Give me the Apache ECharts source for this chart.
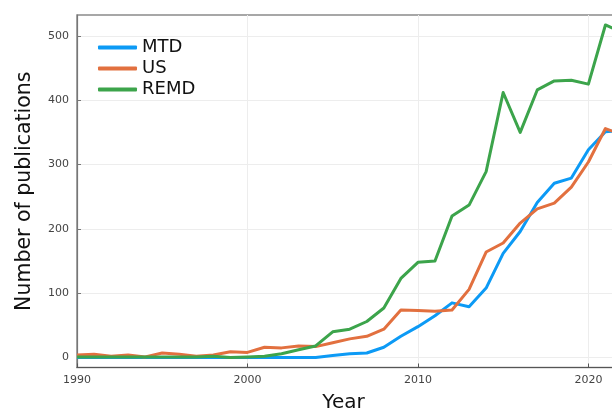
<!DOCTYPE html>
<html>
<head>
<meta charset="utf-8">
<script src="https://cdn.jsdelivr.net/npm/echarts@6/dist/echarts.min.js"></script>
<style>
  html, body { margin: 0; padding: 0; background: #fff; }
  #chart { width: 612px; height: 410px; }
</style>
</head>
<body>
<div id="chart"></div>
<script>
// Publications per year for three enhanced-sampling methods
const years = [1990, 1991, 1992, 1993, 1994, 1995, 1996, 1997, 1998, 1999,
               2000, 2001, 2002, 2003, 2004, 2005, 2006, 2007, 2008, 2009,
               2010, 2011, 2012, 2013, 2014, 2015, 2016, 2017, 2018, 2019,
               2020, 2021, 2022];
const mtd  = [0, 0, 0, 0, 0, 0, 0, 0, 0, 0,
              0, 0, 0, 0, 0, 3, 6, 7, 16, 33,
              48, 65, 85, 79, 108, 162, 196, 241, 271, 279,
              323, 351, 353];
const us   = [4, 5, 2, 4, 1, 7, 5, 2, 4, 9,
              8, 16, 15, 18, 17, 23, 29, 33, 44, 74,
              73, 72, 74, 106, 164, 178, 209, 231, 240, 265,
              304, 356, 346];
const remd = [1, 1, 1, 1, 1, 1, 1, 1, 2, 0,
              1, 2, 6, 12, 18, 40, 44, 56, 77, 123,
              148, 150, 220, 237, 289, 412, 350, 416, 430, 431,
              425, 517, 505];
const seriesNames = ['MTD', 'US', 'REMD'];
const yTicks = [0, 100, 200, 300, 400, 500];

const FONT = 'DejaVu Sans';
const colors = ['#0c9af5', '#e2703f', '#3ca44b'];

const pairs = arr => years.map((y, i) => [y, arr[i]]);
const values = [mtd, us, remd];

const chart = echarts.init(document.getElementById('chart'), null, { renderer: 'canvas' });
chart.setOption({
  animation: false,
  backgroundColor: '#ffffff',
  color: colors,
  grid: {
    left: 77, top: 15, width: 554, height: 352.5,
    containLabel: false,
    outerBoundsMode: 'none',
    show: true, borderColor: '#8a8a8a', borderWidth: 1.5, backgroundColor: 'transparent'
  },
  legend: {
    orient: 'vertical',
    left: 98, top: 38.5,
    padding: 0,
    itemWidth: 39, itemHeight: 4,
    itemGap: 3,
    icon: 'roundRect',
    data: seriesNames,
    textStyle: { fontFamily: FONT, fontSize: 18, color: '#111', lineHeight: 18 }
  },
  xAxis: {
    type: 'value',
    min: 1990, max: 2022.5, interval: 10,
    name: 'Year',
    nameLocation: 'middle',
    nameGap: 25,
    nameTextStyle: { fontFamily: FONT, fontSize: 20, color: '#111', padding: [0, 21, 0, 0] },
    axisLine: { show: true, onZero: false, lineStyle: { color: '#555', width: 1.2 } },
    axisTick: { show: true, inside: true, length: 4, lineStyle: { color: '#555' } },
    axisLabel: { fontFamily: FONT, fontSize: 11, color: '#444', margin: 7, showMaxLabel: false,
                 formatter: v => String(v) },
    splitLine: { show: true, lineStyle: { color: '#ededed', width: 1 } }
  },
  yAxis: {
    type: 'value',
    min: -15.5, max: 532.5,
    name: 'Number of publications',
    nameLocation: 'middle',
    nameGap: 42,
    nameTextStyle: { fontFamily: FONT, fontSize: 20.5, color: '#111' },
    axisLine: { show: true, onZero: false, lineStyle: { color: '#777', width: 1.2 } },
    axisTick: { show: true, inside: true, length: 4, customValues: yTicks, lineStyle: { color: '#777' } },
    axisLabel: { fontFamily: FONT, fontSize: 11, color: '#444', margin: 8, customValues: yTicks },
    splitLine: { show: true, lineStyle: { color: '#ededed', width: 1 } }
  },
  series: seriesNames.map((name, i) => ({
    name,
    type: 'line',
    data: pairs(values[i]),
    showSymbol: false,
    symbol: 'none',
    clip: true,
    lineStyle: { width: 3, color: colors[i], join: 'round' },
    itemStyle: { color: colors[i] },
    z: 2 + (i === 2 ? 1 : 0)
  }))
});
</script>
</body>
</html>
